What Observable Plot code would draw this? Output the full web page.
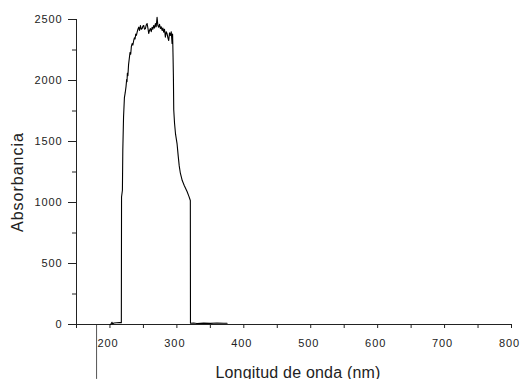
<!DOCTYPE html>
<html>
<head>
<meta charset="utf-8">
<script src="https://cdn.jsdelivr.net/npm/d3@7"></script>
<script src="https://cdn.jsdelivr.net/npm/@observablehq/plot@0.6"></script>
<style>
  html, body { margin: 0; padding: 0; background: #fff; }
  #chart svg text { letter-spacing: 0.9px; }
  #chart svg .lbl text { letter-spacing: 0.2px; }
  #chart svg .ylbl text { letter-spacing: 1px; }
</style>
</head>
<body>
<div id="chart"></div>
<script>
// Wavelength (nm) and absorbance values
const wavelength = [
  200.5, 202, 203, 204, 206, 210, 214, 217,
  217.3, 218.6, 219.2, 220.3, 221.6, 222.8, 224.0, 225.0, 225.5, 226.0, 226.8, 227.8,
  229.1, 230.0, 231.0, 232.0, 233.1, 234.2, 235.5, 236.5, 237.5, 238.5, 239.5, 240.6,
  241.8, 243.0, 244.2, 245.5, 246.8, 248.1, 249.2, 250.4, 251.6, 253.0, 254.2, 255.5,
  256.7, 257.9, 259.1, 260.4, 261.7, 263.0, 264.2, 265.4, 266.6, 267.9, 269.1, 270.4,
  271.6, 272.8, 274.1, 275.4, 276.6, 277.9, 279.1, 280.3, 281.5, 282.8, 284.1, 285.4,
  286.6, 287.8, 289.0, 290.3, 291.6, 292.8, 293.6, 294.3,
  294.8, 295.3, 296.5, 298.0, 300.3, 302.0, 303.5, 305.2, 308.0, 311.0, 315.2, 318.0, 320.1,
  320.3, 325, 330, 340, 350, 360, 370, 375
];
const absorbance = [
  0, 8, 18, 6, 12, 14, 15, 15,
  1045, 1100, 1430, 1700, 1860, 1900, 1950, 2010, 1990, 2060, 2040, 2130,
  2191, 2230, 2215, 2280, 2303, 2290, 2328, 2350, 2340, 2380, 2370, 2396,
  2420, 2437, 2410, 2451, 2420, 2426, 2445, 2451, 2420, 2426, 2455, 2467,
  2430, 2385, 2410, 2426, 2400, 2437, 2420, 2451, 2430, 2467, 2440, 2519,
  2450, 2437, 2460, 2426, 2440, 2410, 2430, 2396, 2420, 2355, 2400, 2383,
  2350, 2328, 2390, 2369, 2400, 2303, 2380, 2189,
  2030, 1760, 1650, 1560, 1480, 1380, 1300, 1240, 1180, 1140, 1090, 1050, 1016,
  10, 12, 8, 11, 9, 12, 10, 10
];

const xTicks = [200, 300, 400, 500, 600, 700, 800];
const xMinor = [150, 250, 350, 450, 550, 650, 750];
const yTicks = [0, 500, 1000, 1500, 2000, 2500];
const yMinor = [250, 750, 1250, 1750, 2250];
const xDomain = [150, 800];
const yDomain = [0, 2500];
const strayX = [180];
const xLabel = "Longitud de onda (nm)";
const yLabel = "Absorbancia";

const data = wavelength.map((w, i) => ({w, a: absorbance[i]}));

const chart = Plot.plot({
  width: 520,
  height: 379,
  marginLeft: 76,
  marginRight: 9,
  marginTop: 19,
  marginBottom: 55,
  style: {fontFamily: "'Liberation Sans', Arial, sans-serif", fontSize: "11px", color: "#222", background: "#fff"},
  x: {domain: xDomain, label: null},
  y: {domain: yDomain, label: null},
  marks: [
    Plot.ruleX(strayX, {y1: 0, y2: -450, stroke: "#555", strokeWidth: 1}),
    Plot.ruleX([xDomain[0]], {stroke: "#222", strokeWidth: 1}),
    Plot.ruleY([yDomain[0]], {stroke: "#222", strokeWidth: 1}),
    Plot.axisY({ticks: yTicks, tickSize: 8, tickPadding: 6, tickFormat: d => String(d), label: null, fontSize: 11}),
    Plot.axisY({ticks: yMinor, tickSize: 4, tickFormat: () => "", label: null}),
    Plot.axisX({ticks: xTicks, tickSize: 4, tickFormat: () => "", label: null}),
    Plot.axisX({ticks: xTicks, tickSize: 0, tickPadding: 15, tickFormat: d => String(d), label: null, fontSize: 11, dx: -2}),
    Plot.axisX({ticks: xMinor, tickSize: 4, tickFormat: () => "", label: null}),
    Plot.line(data, {x: "w", y: "a", stroke: "#000", strokeWidth: 1.1}),
    Plot.text([xLabel], {frameAnchor: "bottom", text: d => d, lineAnchor: "bottom", dy: 53, dx: 4, fontSize: 16, fill: "#222", className: "lbl"}),
    Plot.text([yLabel], {frameAnchor: "left", text: d => d, rotate: -90, dx: -58.5, dy: 60, fontSize: 16, fill: "#222", className: "ylbl"})
  ]
});
document.getElementById("chart").appendChild(chart);
</script>
</body>
</html>
